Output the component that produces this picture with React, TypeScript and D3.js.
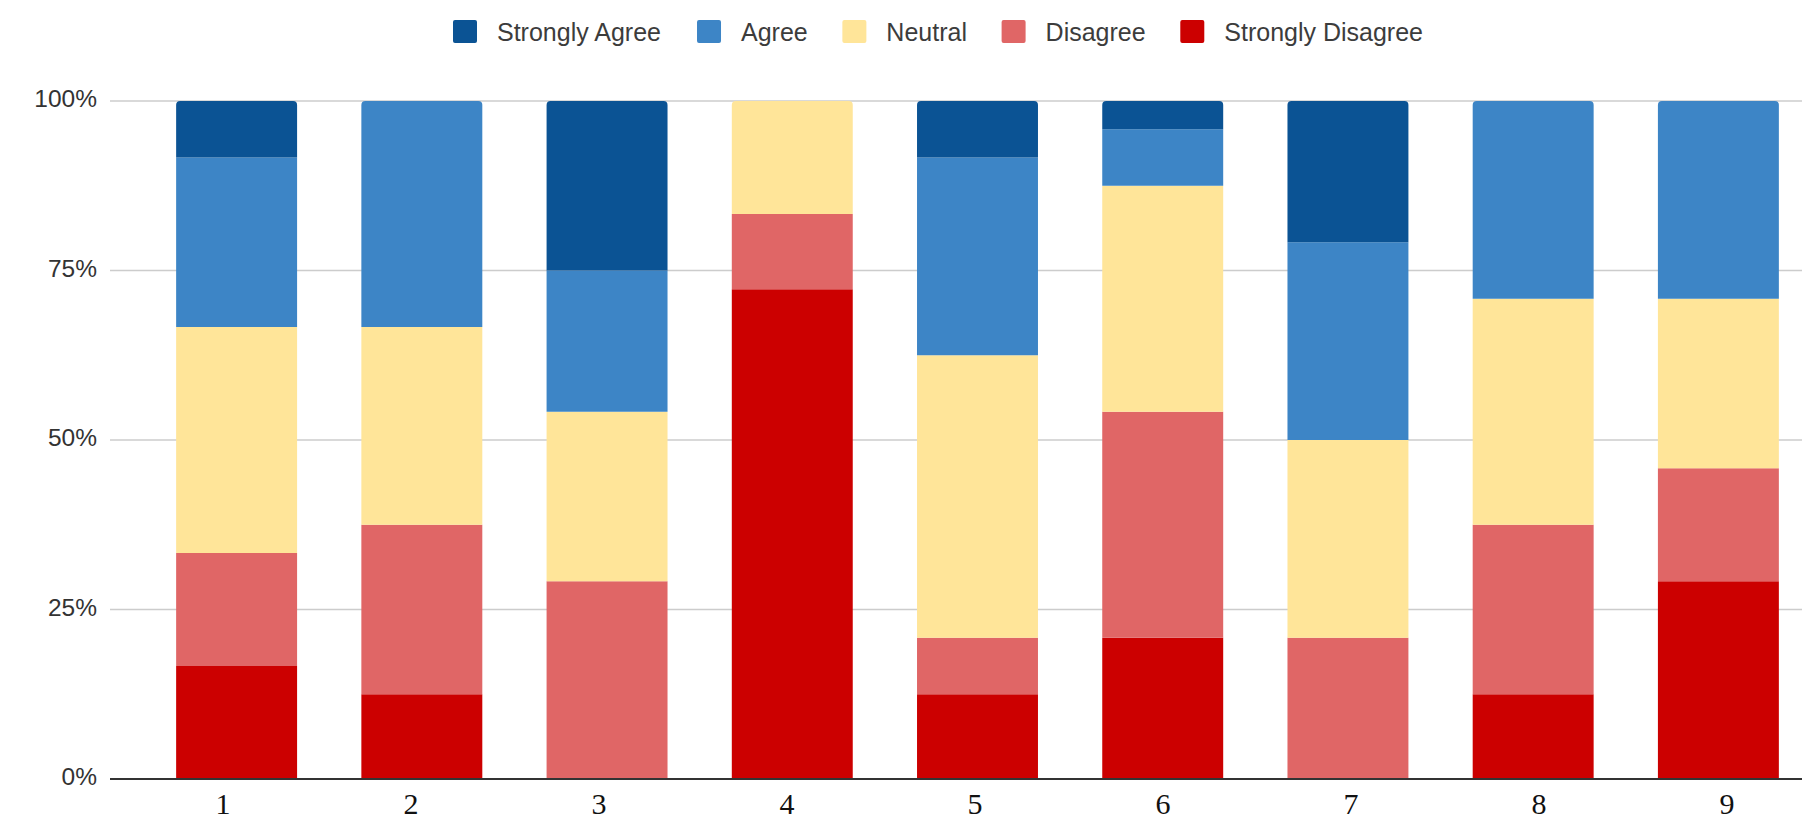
import React, { useMemo } from "react";
import * as d3 from "d3";

const categories = ["1", "2", "3", "4", "5", "6", "7", "8", "9"];
const seriesNames = ["Strongly Agree", "Agree", "Neutral", "Disagree", "Strongly Disagree"];
const seriesColors = ["#0b5394", "#3d85c6", "#ffe599", "#e06666", "#cc0000"];
// percentages per category, bottom-up order is Strongly Disagree -> Strongly Agree
const stronglyDisagree = [16.67, 12.5, 0, 72.22, 12.5, 20.83, 0, 12.5, 29.17];
const disagree = [16.67, 25, 29.17, 11.11, 8.33, 33.33, 20.83, 25, 16.67];
const neutral = [33.33, 29.17, 25, 16.67, 41.67, 33.33, 29.17, 33.33, 25];
const agree = [25, 33.33, 20.83, 0, 29.17, 8.33, 29.17, 29.17, 29.17];
const stronglyAgree = [8.33, 0, 25, 0, 8.33, 4.17, 20.83, 0, 0];
const yTicks = [0, 25, 50, 75, 100];

const W = 1802;
const H = 824;

function measure(text: string, font: string): number {
  const c = document.createElement("canvas");
  const ctx = c.getContext("2d")!;
  ctx.font = font;
  return ctx.measureText(text).width;
}

export default function App() {
  const rows = categories.map((c, i) => ({
    cat: c,
    "Strongly Disagree": stronglyDisagree[i],
    Disagree: disagree[i],
    Neutral: neutral[i],
    Agree: agree[i],
    "Strongly Agree": stronglyAgree[i],
  }));
  const stackOrder = ["Strongly Disagree", "Disagree", "Neutral", "Agree", "Strongly Agree"];
  const stacked = d3.stack<any>().keys(stackOrder)(rows);
  const color = d3.scaleOrdinal<string, string>().domain(seriesNames).range(seriesColors);

  const x = d3.scaleBand().domain(categories).range([144, 1811]).paddingInner(0.347).paddingOuter(0.1735);
  const xLabel = d3.scalePoint().domain(categories).range([223, 1727]);
  const y = d3.scaleLinear().domain([0, 100]).range([779, 101]);

  const fontFam = "Arial, 'Liberation Sans', sans-serif";
  const legendFont = `25px ${fontFam}`;
  const legend = useMemo(() => {
    const sq = 24, gapText = 20;
    const left = 453, right = 1423;
    const widths = seriesNames.map((n) => measure(n, legendFont));
    const used = widths.reduce((a, b) => a + b, 0) + seriesNames.length * (sq + gapText);
    const gapItem = (right - left - used) / (seriesNames.length - 1);
    let cx = left;
    return seriesNames.map((n, i) => {
      const item = { name: n, x: cx };
      cx += sq + gapText + widths[i] + gapItem;
      return item;
    });
  }, []);

  const r = 4;
  const barPath = (x0: number, y0: number, w: number, h: number, rounded: boolean) => {
    if (!rounded) return `M${x0},${y0}h${w}v${h}h${-w}Z`;
    const rr = Math.min(r, h);
    return `M${x0},${y0 + h}V${y0 + rr}Q${x0},${y0} ${x0 + rr},${y0}H${x0 + w - rr}Q${x0 + w},${y0} ${x0 + w},${y0 + rr}V${y0 + h}Z`;
  };

  return (
    <svg width={W} height={H} style={{ position: "absolute", left: 0, top: 0, background: "#fff" }}>
      <rect x={0} y={0} width={W} height={H} fill="#fff" />
      {/* legend */}
      {legend.map((l) => (
        <g key={l.name}>
          <rect x={l.x} y={20} width={24} height={23} rx={2} fill={color(l.name)} />
          <text x={l.x + 44} y={34} dominantBaseline="middle" fontFamily={fontFam} fontSize={25} fill="#3c3c3c">
            {l.name}
          </text>
        </g>
      ))}
      {/* gridlines and y labels */}
      {yTicks.map((t) => (
        <g key={t}>
          {t !== 0 && <line x1={110} x2={W} y1={y(t)} y2={y(t)} stroke="#cccccc" strokeWidth={1.5} />}
          <text x={97} y={y(t)} dominantBaseline="middle" textAnchor="end" fontFamily={fontFam} fontSize={24.5} fill="#333">
            {t}%
          </text>
        </g>
      ))}
      {/* bars */}
      {stacked.map((s) =>
        s.map((d, i) => {
          const h = y(d[0]) - y(d[1]);
          if (h <= 0.01) return null;
          const isTop = d[1] >= 99.9;
          return (
            <path
              key={s.key + i}
              d={barPath(x(categories[i])!, y(d[1]), x.bandwidth(), h, isTop)}
              fill={color(s.key)}
            />
          );
        })
      )}
      {/* baseline */}
      <line x1={110} x2={W} y1={y(0)} y2={y(0)} stroke="#333" strokeWidth={2} />
      {/* x labels */}
      {categories.map((c) => (
        <text key={c} x={xLabel(c)} y={814} textAnchor="middle" fontFamily="'Times New Roman', 'Liberation Serif', serif" fontSize={30} fill="#111">
          {c}
        </text>
      ))}
    </svg>
  );
}
